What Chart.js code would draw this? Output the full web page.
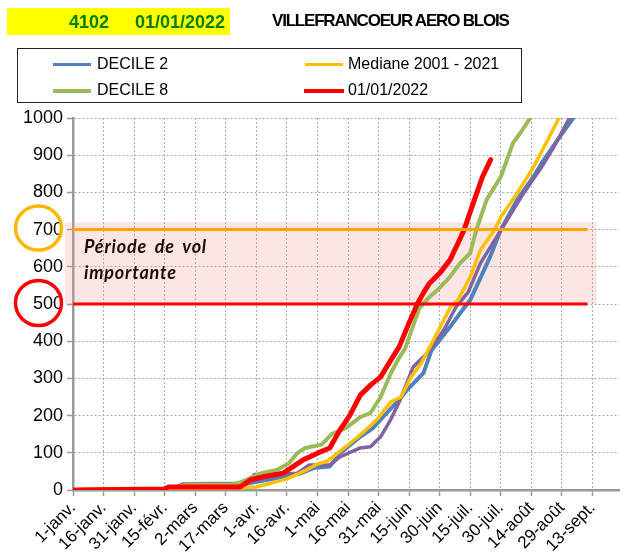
<!DOCTYPE html>
<html>
<head>
<meta charset="utf-8">
<script src="https://cdn.jsdelivr.net/npm/chart.js@4"></script>
<style>
  body { margin: 0; background: #fff; font-family: "Liberation Sans", Arial, sans-serif; }
  #wrap { position: relative; width: 625px; height: 560px; }
  #chart { position: absolute; left: 0; top: 0; }
  #head { position: absolute; left: 7px; top: 8px; width: 223px; height: 27px; background: #ffff00;
          color: #008000; font-weight: bold; font-size: 18px; line-height: 28px; }
  #head span { position: absolute; top: 0; }
  #title { position: absolute; left: 272px; top: 11px; font-weight: bold; font-size: 17px; color: #000; letter-spacing: -1.2px; }
  #legend { position: absolute; left: 17px; top: 48px; width: 503px; height: 53px; border: 1.5px solid #222; }
  .item { position: absolute; font-size: 16px; color: #000; line-height: 18px; }
  .item i { position: absolute; top: 8px; width: 38px; height: 3px; }
  .item b { font-weight: normal; position: absolute; white-space: nowrap; }
  #note { position: absolute; left: 84px; top: 233px; font-family: Lato, "Open Sans", sans-serif; font-weight: bold;
          font-style: italic; font-size: 18px; line-height: 26px; color: #1a0a0a; letter-spacing: 0.8px; word-spacing: 3px; }
</style>
</head>
<body>
<div id="wrap">
  <canvas id="chart" width="625" height="560"></canvas>
  <div id="head"><span style="left:62px">4102</span><span style="left:128px">01/01/2022</span></div>
  <div id="title">VILLEFRANCOEUR AERO BLOIS</div>
  <div id="legend">
    <div class="item" style="left:35px;top:6px"><i style="background:#4f81bd"></i><b style="left:44px">DECILE 2</b></div>
    <div class="item" style="left:287px;top:6px"><i style="background:#ffc000"></i><b style="left:43px">Mediane 2001 - 2021</b></div>
    <div class="item" style="left:35px;top:32px"><i style="background:#9bbb59;height:4px"></i><b style="left:44px">DECILE 8</b></div>
    <div class="item" style="left:286px;top:32px"><i style="background:#ff0000;height:4px;width:40px"></i><b style="left:44px">01/01/2022</b></div>
  </div>
  <div id="note">Période de vol<br>importante</div>
</div>
<script>
// x = day of year (0 = 1 janv.), one tick every 15 days
const tickLabels = ['1-janv.', '16-janv.', '31-janv.', '15-févr.', '2-mars', '17-mars', '1-avr.', '16-avr.', '1-mai',
  '16-mai', '31-mai', '15-juin', '30-juin', '15-juil.', '30-juil.', '14-août', '29-août', '13-sept.'];

const decile2Days = [0, 45, 52, 55, 82, 86, 95, 104, 112, 118, 126, 131, 136, 141, 147, 154, 160, 164, 172, 176, 180, 185, 192, 195, 200, 205, 210, 218, 226, 231, 239, 246];
const decile2Values = [0, 3, 5, 10, 10, 18, 27, 36, 45, 59, 63, 99, 121, 143, 165, 207, 242, 269, 314, 376, 403, 438, 490, 511, 570, 630, 700, 780, 842, 887, 950, 1003];

const medianDays = [0, 60, 90, 105, 115, 120, 125, 135, 142, 149, 156, 161, 166, 171, 179, 185, 189, 195, 200, 207, 210, 218, 226, 233, 239];
const medianValues = [0, 1, 8, 30, 55, 70, 78, 121, 153, 188, 237, 250, 304, 341, 425, 489, 511, 573, 645, 700, 734, 798, 868, 941, 1005];

const decile8Days = [0, 50, 55, 78, 82, 88, 93, 100, 106, 110, 114, 122, 127, 134, 141, 146, 151, 156, 160, 163, 170, 175, 179, 185, 190, 195, 198, 203, 210, 216, 220, 225];
const decile8Values = [0, 2, 15, 15, 20, 35, 46, 54, 72, 99, 113, 122, 150, 167, 196, 207, 250, 314, 355, 380, 489, 519, 538, 573, 610, 637, 700, 780, 842, 933, 963, 1005];

const year2022Days = [0, 45, 47, 82, 87, 93, 103, 108, 113, 120, 126, 131, 136, 141, 146, 151, 156, 160, 165, 169, 172, 175, 180, 185, 189, 192, 197, 201, 205];
const year2022Values = [0, 3, 8, 8, 27, 35, 45, 63, 81, 99, 113, 161, 202, 255, 282, 304, 349, 384, 450, 500, 530, 556, 583, 618, 664, 700, 780, 842, 888];

const otherDays = [0, 45, 50, 54, 86, 89, 110, 116, 126, 131, 141, 146, 151, 156, 160, 167, 174, 182, 188, 194, 200, 211, 220, 230, 236, 244];
const otherValues = [0, 3, 5, 17, 18, 42, 45, 67, 67, 89, 113, 116, 143, 190, 235, 331, 368, 430, 492, 532, 610, 707, 788, 868, 922, 1003];

const bandLow = 500;
const bandHigh = 720;
const bandStart = -4;
const bandEnd = 257;
const lineEnd = 252.5;

function pts(days, vals) {
  return days.map((d, i) => ({ x: d, y: vals[i] }));
}

const bandPlugin = {
  id: 'band',
  beforeDatasetsDraw(chart) {
    const { ctx, scales: { x, y } } = chart;
    ctx.save();
    ctx.fillStyle = 'rgba(245,150,150,0.25)';
    const x0 = x.getPixelForValue(bandStart), x1 = x.getPixelForValue(bandEnd);
    const y0 = y.getPixelForValue(bandHigh), y1 = y.getPixelForValue(bandLow);
    ctx.fillRect(x0, y0, x1 - x0, y1 - y0);
    ctx.restore();
  },
  afterDatasetsDraw(chart) {
    const { ctx, scales: { x, y } } = chart;
    ctx.save();
    const xa = x.getPixelForValue(0), xb = x.getPixelForValue(lineEnd);
    ctx.lineWidth = 3;
    ctx.strokeStyle = '#ffa500';
    ctx.beginPath();
    ctx.moveTo(xa, y.getPixelForValue(700));
    ctx.lineTo(xb, y.getPixelForValue(700));
    ctx.stroke();
    ctx.strokeStyle = '#ff0000';
    ctx.beginPath();
    ctx.moveTo(xa, y.getPixelForValue(500));
    ctx.lineTo(xb, y.getPixelForValue(500));
    ctx.stroke();
    // circles round the 700 and 500 labels
    ctx.lineWidth = 3.5;
    ctx.strokeStyle = '#ffb400';
    ctx.beginPath();
    ctx.ellipse(38.5, y.getPixelForValue(700) - 1.5, 23, 22, 0, 0, Math.PI * 2);
    ctx.stroke();
    ctx.strokeStyle = '#ff0000';
    ctx.beginPath();
    ctx.ellipse(38.5, y.getPixelForValue(500) - 1, 23, 22.5, 0, 0, Math.PI * 2);
    ctx.stroke();
    ctx.restore();
  }
};

const lineOpts = { pointRadius: 0, tension: 0, fill: false, borderCapStyle: 'round', borderJoinStyle: 'round' };

new Chart(document.getElementById('chart'), {
  type: 'line',
  data: {
    datasets: [
      { label: '01/01/2022', data: pts(year2022Days, year2022Values), borderColor: '#ff0000', borderWidth: 5, order: 0, ...lineOpts },
      { label: 'Mediane 2001 - 2021', data: pts(medianDays, medianValues), borderColor: '#ffc000', borderWidth: 3.5, order: 1, ...lineOpts },
      { label: 'DECILE 8', data: pts(decile8Days, decile8Values), borderColor: '#9bbb59', borderWidth: 4, order: 2, ...lineOpts },
      { label: '', data: pts(otherDays, otherValues), borderColor: '#8064a2', borderWidth: 3.5, order: 3, ...lineOpts },
      { label: 'DECILE 2', data: pts(decile2Days, decile2Values), borderColor: '#4f81bd', borderWidth: 4, order: 4, ...lineOpts }
    ]
  },
  options: {
    responsive: false,
    animation: false,
    layout: { padding: { top: 118, right: 6, left: 0, bottom: 0 } },
    plugins: { legend: { display: false }, tooltip: { enabled: false } },
    scales: {
      x: {
        type: 'linear',
        min: 0,
        max: 268,
        ticks: {
          autoSkip: false,
          maxRotation: 45,
          minRotation: 45,
          color: '#000',
          font: { family: 'Liberation Sans', size: 17 },
          padding: 2,
          callback: (v) => tickLabels[Math.round(v / 15)]
        },
        afterBuildTicks: (s) => { s.ticks = tickLabels.map((_, i) => ({ value: i * 15 })); },
        afterFit: (s) => { s.height = 70; },
        grid: { color: '#aaa', tickColor: '#999', tickLength: 6, tickWidth: 1.5 },
        border: { color: '#999', width: 2.5, dash: [2, 2] }
      },
      y: {
        min: 0,
        max: 1000,
        ticks: {
          stepSize: 100,
          color: '#000',
          font: { family: 'Liberation Sans', size: 18 },
          padding: 4,
          callback: (v) => String(v)
        },
        afterFit: (s) => { s.width = 73; },
        grid: { color: '#aaa', tickColor: '#999', tickLength: 6, tickWidth: 1.5 },
        border: { color: '#999', width: 2.5, dash: [2, 2] }
      }
    }
  },
  plugins: [bandPlugin]
});
</script>
</body>
</html>
